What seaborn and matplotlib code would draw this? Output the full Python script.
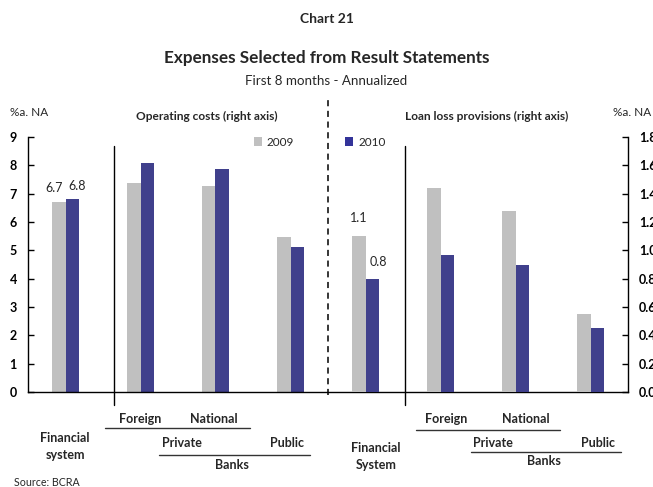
import matplotlib
matplotlib.use("Agg")
import matplotlib.pyplot as plt
import seaborn as sns
import pandas as pd
from matplotlib.lines import Line2D
from matplotlib.patches import Patch

# ---------------- data ----------------
categories = ["Financial system", "Foreign", "National", "Public",
              "Financial System", "Foreign ", "National ", "Public "]
op_categories = categories[:4]
ll_categories = categories[4:]
years = ["2009", "2010"]
op_2009 = [6.7, 7.39, 7.27, 5.47]
op_2010 = [6.8, 8.09, 7.88, 5.12]
ll_2009 = [1.1, 1.44, 1.28, 0.55]
ll_2010 = [0.8, 0.97, 0.90, 0.45]
left_ticks = [0, 1, 2, 3, 4, 5, 6, 7, 8, 9]
right_ticks = [0.0, 0.2, 0.4, 0.6, 0.8, 1.0, 1.2, 1.4, 1.6, 1.8]
colors = {"2009": "#C0C0C0", "2010": "#333399"}

df_op = pd.DataFrame({
    "cat": op_categories * 2,
    "year": ["2009"] * 4 + ["2010"] * 4,
    "value": op_2009 + op_2010,
})
df_ll = pd.DataFrame({
    "cat": ll_categories * 2,
    "year": ["2009"] * 4 + ["2010"] * 4,
    "value": ll_2009 + ll_2010,
})

# ---------------- style ----------------
sns.set_style("white")
plt.rcParams["font.family"] = ["Lato", "DejaVu Sans"]

W, H = 653, 487
fig = plt.figure(figsize=(W / 100, H / 100), dpi=100)


def fx(x):
    return x / W


def fy(y):
    return 1 - y / H


ax = fig.add_axes([fx(28), fy(392), 600 / W, 255 / H])
ax2 = ax.twinx()

sns.barplot(data=df_op, x="cat", y="value", hue="year", order=categories,
            hue_order=years, palette=colors, width=0.373, linewidth=0,
            errorbar=None, ax=ax, legend=False)
sns.barplot(data=df_ll, x="cat", y="value", hue="year", order=categories,
            hue_order=years, palette=colors, width=0.373, linewidth=0,
            errorbar=None, ax=ax2, legend=False)

ax.set_xlim(-0.5, 7.5)
ax.set_ylim(0, 9)
ax2.set_ylim(0, 1.8)
ax.set_yticks(left_ticks)
ax.set_yticklabels([str(t) for t in left_ticks], fontweight="bold", fontsize=9)
ax2.set_yticks(right_ticks)
ax2.set_yticklabels([f"{t:.1f}" for t in right_ticks], fontweight="bold", fontsize=9)
ax.set_xlabel("")
ax.set_ylabel("")
ax2.set_ylabel("")
ax2.set_xlabel("")

for a in (ax, ax2):
    a.tick_params(axis="x", bottom=False, labelbottom=False)
    a.spines["top"].set_visible(False)
    for s in a.spines.values():
        s.set_color("black")
        s.set_linewidth(1.0)
ax.spines["right"].set_visible(False)
ax2.spines["left"].set_visible(False)
ax2.spines["bottom"].set_visible(False)
ax.tick_params(axis="y", direction="in", length=4, width=1, pad=8, colors="black")
ax2.tick_params(axis="y", direction="in", length=4, width=1, pad=8, colors="black")

# value labels
c0 = ax.containers[0]
a0 = ax.bar_label(c0, labels=[f"{op_2009[0]:.1f}"] + [""] * (len(c0) - 1),
                  padding=5, fontsize=9)
a0[0].xyann = (-3, 6)
c1 = ax.containers[1]
a1 = ax.bar_label(c1, labels=[f"{op_2010[0]:.1f}"] + [""] * (len(c1) - 1),
                  padding=5, fontsize=9)
a1[0].xyann = (3, 5)
d0 = ax2.containers[0]
ax2.bar_label(d0, labels=[f"{ll_2009[0]:.1f}"] + [""] * (len(d0) - 1),
              padding=9, fontsize=9)
d1 = ax2.containers[1]
b1 = ax2.bar_label(d1, labels=[f"{ll_2010[0]:.1f}"] + [""] * (len(d1) - 1),
                   padding=8, fontsize=9)
b1[0].xyann = (4, 8)

# separators
ax.axvline(3.5, ymin=-0.01, ymax=(392 - 100) / 255, color="black", lw=1.1,
           linestyle=(0, (4, 3)), clip_on=False)
for xsep in (0.64, 4.53):
    ax.axvline(xsep, ymin=(392 - 405) / 255, ymax=(392 - 146) / 255,
               color="black", lw=1, clip_on=False)

# legend
handles = [Patch(facecolor=colors[y], edgecolor="none", label=y) for y in years]
fig.legend(handles=handles, loc="center left", bbox_to_anchor=(fx(254), fy(142)),
           ncol=2, frameon=False, fontsize=8.5, handlelength=0.7,
           handleheight=0.7, handletextpad=0.4, columnspacing=4.3,
           borderpad=0, borderaxespad=0)

# titles
fig.text(0.5, fy(19), "Chart 21", ha="center", va="center",
         fontsize=10, fontweight="bold")
fig.text(0.5, fy(58), "Expenses Selected from Result Statements", ha="center",
         va="center", fontsize=12.3, fontweight="bold")
fig.text(0.5, fy(81), "First 8 months - Annualized", ha="center",
         va="center", fontsize=9.6)
fig.text(fx(10), fy(112), "%a. NA", ha="left", va="center", fontsize=8.5)
fig.text(fx(613), fy(112), "%a. NA", ha="left", va="center", fontsize=8.5)
fig.text(fx(207), fy(116), "Operating costs (right axis)", ha="center",
         va="center", fontsize=8.6, fontweight="bold")
fig.text(fx(487), fy(116), "Loan loss provisions (right axis)", ha="center",
         va="center", fontsize=8.6, fontweight="bold")

# bottom group labels
lab = dict(ha="center", va="center", fontsize=9, fontweight="bold")
for x, y, t in [
    (140, 419, "Foreign"), (214, 419, "National"),
    (65, 438, "Financial"), (65, 455, "system"),
    (182, 443, "Private"), (287, 443, "Public"), (232, 465, "Banks"),
    (446, 419, "Foreign"), (526, 419, "National"),
    (376, 448, "Financial"), (376, 465, "System"),
    (493, 443, "Private"), (598, 443, "Public"), (544, 461, "Banks"),
]:
    fig.text(fx(x), fy(y), t, **lab)

for x0, x1, y in [(105, 250, 428), (159, 310, 455), (416, 560, 430), (471, 621, 452)]:
    fig.add_artist(Line2D([fx(x0), fx(x1)], [fy(y), fy(y)], color="#333333", lw=1))

fig.text(fx(14), fy(482), "Source: BCRA", ha="left", va="center", fontsize=7.7)

fig.savefig("out.png", dpi=100)
